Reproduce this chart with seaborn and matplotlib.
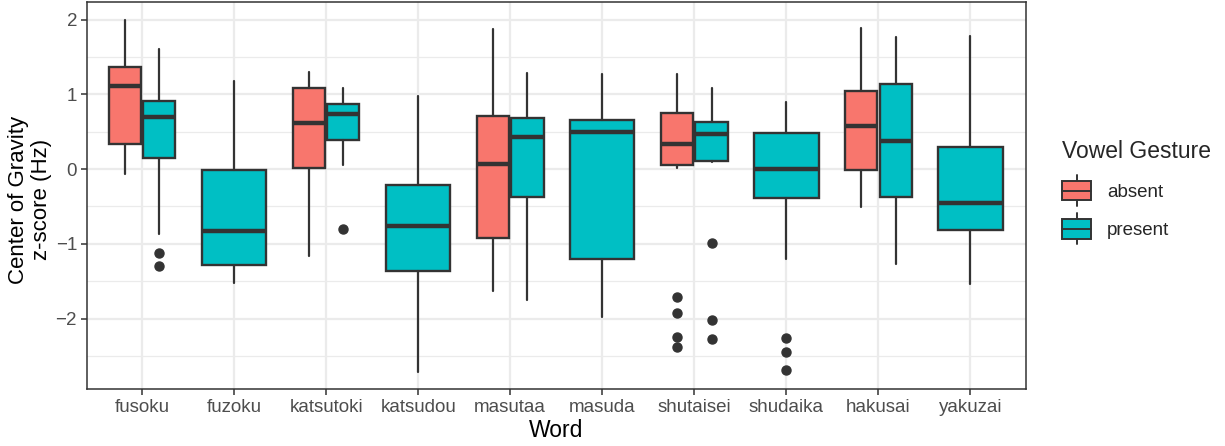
import matplotlib
matplotlib.use("Agg")
import matplotlib.pyplot as plt
import seaborn as sns
from matplotlib.legend_handler import HandlerBase
from matplotlib.patches import Rectangle, Patch
from matplotlib.lines import Line2D

sns.set_theme(style="white")
plt.rcParams['font.family'] = ['Liberation Sans', 'DejaVu Sans']

words = ["fusoku", "fuzoku", "katsutoki", "katsudou", "masutaa",
         "masuda", "shutaisei", "shudaika", "hakusai", "yakuzai"]

# box stats (absent group only exists for some words)
absent_words = ["fusoku", "katsutoki", "masutaa", "shutaisei", "hakusai"]
absent_whislo = [-0.07, -1.17, -1.63, 0.01, -0.51]
absent_q1 = [0.33, 0.02, -0.92, 0.05, -0.01]
absent_med = [1.11, 0.61, 0.07, 0.33, 0.58]
absent_q3 = [1.36, 1.09, 0.71, 0.75, 1.04]
absent_whishi = [1.99, 1.30, 1.87, 1.27, 1.89]
absent_fliers = [[], [], [], [-1.71, -1.93, -2.25, -2.38], []]

present_words = words
present_whislo = [-0.87, -1.53, 0.06, -2.72, -1.75, -1.98, 0.10, -1.20, -1.27, -1.54]
present_q1 = [0.15, -1.29, 0.39, -1.37, -0.38, -1.20, 0.11, -0.39, -0.38, -0.81]
present_med = [0.69, -0.83, 0.74, -0.76, 0.43, 0.50, 0.47, 0.00, 0.38, -0.46]
present_q3 = [0.91, -0.01, 0.87, -0.21, 0.68, 0.65, 0.63, 0.48, 1.14, 0.29]
present_whishi = [1.60, 1.18, 1.08, 0.98, 1.29, 1.27, 1.08, 0.90, 1.76, 1.78]
present_fliers = [[-1.13, -1.30], [], [-0.80], [], [], [], [-0.99, -2.02, -2.27],
                  [-2.26, -2.45, -2.69], [], []]

groups = ["absent", "present"]
colors = {"absent": "#F8766D", "present": "#00BFC4"}
edge = "#333333"

fig = plt.figure(figsize=(12.25, 4.46), dpi=100)
ax = fig.add_axes([0.0708, 0.1271, 0.7665, 0.8677])


def draw_group(name, wlist, lo, q1, med, q3, hi, fl, offset_sign):
    stats, pos, widths = [], [], []
    for i, w in enumerate(wlist):
        both = w in absent_words
        x = words.index(w)
        if both:
            pos.append(x + offset_sign * 0.1875)
            widths.append(0.35)
        else:
            pos.append(x)
            widths.append(0.7)
        stats.append(dict(whislo=lo[i], q1=q1[i], med=med[i], q3=q3[i],
                          whishi=hi[i], fliers=fl[i]))
    ax.bxp(stats, positions=pos, widths=widths, patch_artist=True,
           showcaps=False, manage_ticks=False,
           boxprops=dict(facecolor=colors[name], edgecolor=edge, linewidth=1.7),
           medianprops=dict(color=edge, linewidth=3.2, solid_capstyle="butt"),
           whiskerprops=dict(color=edge, linewidth=1.6),
           flierprops=dict(marker="o", markerfacecolor=edge, markeredgecolor=edge,
                           markersize=6.5, linestyle="none"),
           zorder=3)


draw_group("absent", absent_words, absent_whislo, absent_q1, absent_med,
           absent_q3, absent_whishi, absent_fliers, -1)
draw_group("present", present_words, present_whislo, present_q1, present_med,
           present_q3, present_whishi, present_fliers, 1)

ax.set_xlim(-0.6, 9.6)
ax.set_ylim(-2.947, 2.23)
ax.set_xticks(range(len(words)))
ax.set_xticklabels(words)
ax.set_yticks([-2, -1, 0, 1, 2])
ax.set_yticks([-2.5, -1.5, -0.5, 0.5, 1.5], minor=True)
ax.grid(which="major", color="#EBEBEB", linewidth=1.6, zorder=0)
ax.grid(which="minor", axis="y", color="#EBEBEB", linewidth=0.9, zorder=0)
ax.set_axisbelow(True)
ax.set_facecolor("white")
for s in ax.spines.values():
    s.set_color(edge)
    s.set_linewidth(1.1)
ax.tick_params(axis="both", which="major", length=4, width=1.1, color=edge,
               labelcolor="#4D4D4D", labelsize=13.5, pad=3, bottom=True, left=True)
ax.tick_params(axis="y", which="minor", length=0)
ax.set_xlabel("Word", fontsize=16.5, color="black", labelpad=2)
ax.set_ylabel("Center of Gravity\nz-score (Hz)", fontsize=16, color="black",
              linespacing=1.1)
ax.yaxis.set_label_coords(-0.037, 0.49)


class BoxKey(HandlerBase):
    def create_artists(self, legend, orig_handle, xdescent, ydescent, width,
                       height, fontsize, trans):
        fc = orig_handle.get_facecolor()
        cx = width / 2 - xdescent
        bh = height * 1.1
        y0 = -ydescent + (height - bh) / 2
        wl = Line2D([cx, cx], [y0 - 4, y0 + bh + 4], color=edge, lw=1.4, transform=trans)
        r = Rectangle((-xdescent, y0), width, bh, facecolor=fc, edgecolor=edge,
                      lw=1.4, transform=trans)
        m = Line2D([-xdescent, width - xdescent], [y0 + bh / 2, y0 + bh / 2],
                   color=edge, lw=1.4, transform=trans)
        return [wl, r, m]


handles = [Patch(facecolor=colors[g]) for g in groups]
leg = fig.legend(handles, groups, title="Vowel Gesture", loc="upper left",
                 bbox_to_anchor=(0.864, 0.695), frameon=False, fontsize=13.5,
                 title_fontsize=16.5, handler_map={Patch: BoxKey()},
                 handlelength=1.55, handleheight=1.1, handletextpad=0.85,
                 labelspacing=1.0, borderaxespad=0, borderpad=0.2)
leg._legend_box.align = "left"

fig.savefig("out.png", dpi=100)
